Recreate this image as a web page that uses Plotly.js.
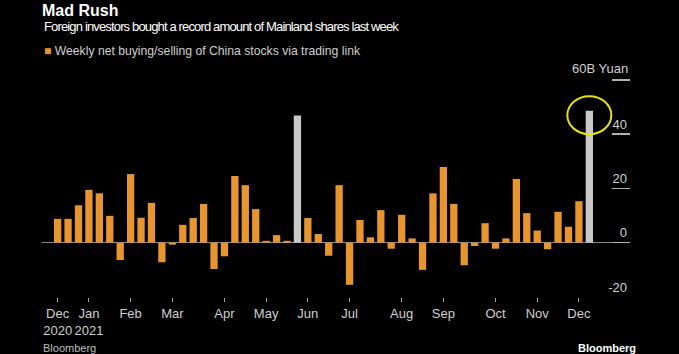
<!DOCTYPE html>
<html>
<head>
<meta charset="utf-8">
<script src="https://cdn.plot.ly/plotly-3.0.1.min.js"></script>
<style>
  html, body { margin: 0; padding: 0; background: #000; }
  #chart { width: 679px; height: 354px; }
  .annotation[data-index="0"] text { letter-spacing: -0.85px; }
</style>
</head>
<body>
<div id="chart"></div>
<script>
// Weekly periods (week ending dates)
const weeks = [
  '2020-12-11','2020-12-18','2020-12-25','2021-01-01','2021-01-08','2021-01-15','2021-01-22',
  '2021-01-29','2021-02-05','2021-02-12','2021-02-19','2021-02-26','2021-03-05','2021-03-12',
  '2021-03-19','2021-03-26','2021-04-02','2021-04-09','2021-04-16','2021-04-23','2021-04-30',
  '2021-05-07','2021-05-14','2021-05-21','2021-05-28','2021-06-04','2021-06-11','2021-06-18',
  '2021-06-25','2021-07-02','2021-07-09','2021-07-16','2021-07-23','2021-07-30','2021-08-06',
  '2021-08-13','2021-08-20','2021-08-27','2021-09-03','2021-09-10','2021-09-17','2021-09-24',
  '2021-10-01','2021-10-08','2021-10-15','2021-10-22','2021-10-29','2021-11-05','2021-11-12',
  '2021-11-19','2021-11-26','2021-12-03'
];

// Weekly net buying/selling, billion yuan
const netFlows = [
  8.8, 8.8, 13.8, 19.5, 18.2, 9.9, -6.4,
  25.3, 9.2, 14.7, -7.2, -0.7, 6.6, 9.1,
  14.3, -9.7, -5.0, 24.6, 21.2, 12.4, 0.7,
  2.8, 0.7, 46.9, 9.1, 3.2, -4.8, 21.2,
  -15.5, 8.4, 2.0, 12.0, -2.2, 10.3, 1.6,
  -10.0, 18.2, 27.9, 14.3, -8.3, -1.2, 7.2,
  -2.2, 1.6, 23.5, 10.9, 4.5, -2.4, 11.4,
  5.9, 15.3, 48.6
];

// Record weeks drawn in grey
const highlightWeeks = ['2021-05-21', '2021-12-03'];

// X tick positions and labels
const xTickVals = ['2020-12-11','2021-01-01','2021-01-29','2021-02-26','2021-04-02','2021-04-30',
                   '2021-05-28','2021-06-25','2021-07-30','2021-08-27','2021-10-01','2021-10-29','2021-11-26'];
const xTickText = ['Dec<br>2020','Jan<br>2021','Feb','Mar','Apr','May','Jun','Jul','Aug','Sep','Oct','Nov','Dec'];

// Y ticks (top tick carries the unit label, drawn as an annotation)
const yTickVals = [-20, 0, 20, 40, 60];
const yTickText = ['-20', '0', '20', '40', ''];
const yUnitLabel = '60B Yuan';

const ORANGE = '#e6952f';
const GREY = '#c9c9c9';
const FONT = '"Liberation Sans", Arial, sans-serif';

const barColors = weeks.map(w => highlightWeeks.includes(w) ? GREY : ORANGE);
const circleWeekIdx = weeks.indexOf(highlightWeeks[1]);

const trace = {
  type: 'bar',
  x: weeks,
  y: netFlows,
  marker: { color: barColors, line: { width: 0 } },
  showlegend: false,
  hoverinfo: 'x+y'
};

// plot area: bottom at 297px, -20..60 spans 217px; range extended a bit above 60
const PX_PER_UNIT = 217 / 80;
const yTop = 66.6;
const plotTop = 297 - (yTop + 20) * PX_PER_UNIT;
const plotH = 297 - plotTop;
const py = p => (297 - p) / plotH;

const layout = {
  width: 679,
  height: 354,
  paper_bgcolor: '#000',
  plot_bgcolor: '#000',
  margin: { l: 42, r: 49, t: plotTop, b: 57 },
  bargap: 0.3,
  font: { family: FONT, color: '#cfcfcf', size: 13 },
  title: {
    text: '<b>Mad Rush</b>',
    xref: 'paper', x: 0, xanchor: 'left',
    yref: 'container', y: 1 - 10 / 354, yanchor: 'middle',
    font: { family: FONT, size: 16, color: '#ffffff' }
  },
  xaxis: {
    type: 'category',
    range: [-1.5, 54.9],
    tickmode: 'array',
    tickvals: xTickVals,
    ticktext: xTickText,
    ticks: 'outside',
    ticklen: 4,
    tickwidth: 1,
    tickcolor: '#a0a0a0',
    tickfont: { family: FONT, size: 13, color: '#cfcfcf' },
    showgrid: false,
    showline: false,
    zeroline: false,
    fixedrange: true
  },
  yaxis: {
    side: 'right',
    range: [-20, yTop],
    tickmode: 'array',
    tickvals: yTickVals,
    ticktext: yTickText,
    ticks: 'inside',
    ticklen: 18,
    tickwidth: 1.5,
    tickcolor: '#b0b0b0',
    ticklabelposition: 'inside top',
    tickfont: { family: FONT, size: 13, color: '#cfcfcf' },
    showgrid: false,
    showline: false,
    zeroline: true,
    zerolinecolor: '#8a8a8a',
    zerolinewidth: 1,
    fixedrange: true
  },
  annotations: [
    {
      text: 'Foreign investors bought a record amount of Mainland shares last week',
      xref: 'paper', yref: 'paper', x: 0, y: py(26.7),
      xanchor: 'left', yanchor: 'middle', align: 'left', showarrow: false,
      font: { family: FONT, size: 13, color: '#ffffff' }
    },
    {
      text: '<span style="color:' + ORANGE + '">■</span> Weekly net buying/selling of China stocks via trading link',
      xref: 'paper', yref: 'paper', x: 0, y: py(51.5),
      xanchor: 'left', yanchor: 'middle', align: 'left', showarrow: false,
      font: { family: FONT, size: 12.2, color: '#cfcfcf' }
    },
    {
      text: 'Bloomberg',
      xref: 'paper', yref: 'paper', x: -0.002, y: py(347.5),
      xanchor: 'left', yanchor: 'middle', showarrow: false,
      font: { family: FONT, size: 11, color: '#bdbdbd' }
    },
    {
      text: '<b>Bloomberg</b>',
      xref: 'paper', yref: 'paper', x: (638 - 42) / 588, y: py(347.5),
      xanchor: 'right', yanchor: 'middle', showarrow: false,
      font: { family: FONT, size: 11, color: '#ffffff' }
    },
    {
      text: yUnitLabel,
      xref: 'paper', yref: 'y', x: 1, y: yTickVals[yTickVals.length - 1],
      xanchor: 'right', yanchor: 'bottom', align: 'right', yshift: 2, showarrow: false,
      font: { family: FONT, size: 13, color: '#cfcfcf' }
    }
  ],
  shapes: [
    {
      type: 'circle',
      xref: 'x', yref: 'y',
      xsizemode: 'pixel', ysizemode: 'pixel',
      xanchor: circleWeekIdx, yanchor: 47,
      x0: -22, x1: 22, y0: -19, y1: 19,
      line: { color: '#e9e20a', width: 2 }
    }
  ]
};

Plotly.newPlot('chart', [trace], layout, { displayModeBar: false, staticPlot: true });
</script>
</body>
</html>
